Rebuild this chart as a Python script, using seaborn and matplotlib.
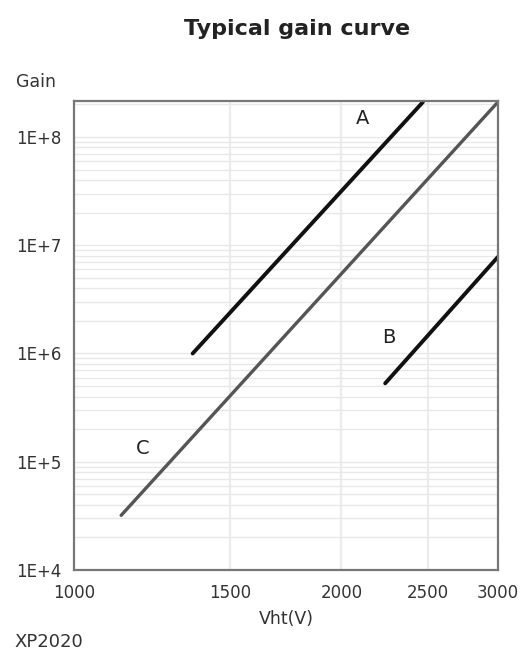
import matplotlib
matplotlib.use("Agg")
import matplotlib.pyplot as plt
import matplotlib.ticker as mticker
import numpy as np
import pandas as pd
import seaborn as sns

# end points of each (straight in log-log) gain curve
curva_a_v = [1360, 2470]
curva_a_g = [1.0e6, 2.1e8]
curva_b_v = [2240, 3000]
curva_b_g = [5.3e5, 7.8e6]
curva_c_v = [1130, 3000]
curva_c_g = [3.2e4, 2.1e8]

x_ticks = [1000, 1500, 2000, 2500, 3000]
y_ticks = [1e4, 1e5, 1e6, 1e7, 1e8]
y_tick_labels = ["1E+4", "1E+5", "1E+6", "1E+7", "1E+8"]

sns.set_style("white")
plt.rcParams['font.family'] = ['DejaVu Sans']

fig = plt.figure(figsize=(5.23, 6.54), dpi=100)
ax = fig.add_axes([0.1415, 0.1284, 0.8105, 0.7172])

ax.set_xscale("log")
ax.set_yscale("log")
ax.set_xlim(1000, 3000)
ax.set_ylim(1e4, 2.15e8)

# light log grid
ax.yaxis.set_minor_locator(mticker.LogLocator(base=10, subs=np.arange(2, 10)))
ax.grid(which="both", axis="y", color="#e8e8e8", linewidth=1.0)
for v in [1500, 2000, 2500]:
    ax.axvline(v, color="#ececec", linewidth=1.6, zorder=0)

sns.lineplot(x=curva_c_v, y=curva_c_g, ax=ax, color="#555555", linewidth=2.4)
sns.lineplot(x=curva_a_v, y=curva_a_g, ax=ax, color="#111111", linewidth=2.8)
sns.lineplot(x=curva_b_v, y=curva_b_g, ax=ax, color="#111111", linewidth=2.8)

ax.text(2114, 1.49e8, "A", fontsize=14, ha="center", va="center", color="#222222")
ax.text(2262, 1.42e6, "B", fontsize=14, ha="center", va="center", color="#222222")
ax.text(1196, 1.34e5, "C", fontsize=14, ha="center", va="center", color="#222222")

ax.xaxis.set_major_locator(mticker.FixedLocator(x_ticks))
ax.xaxis.set_minor_locator(mticker.NullLocator())
ax.set_xticklabels([str(t) for t in x_ticks])
ax.set_yticks(y_ticks)
ax.set_yticklabels(y_tick_labels)
ax.tick_params(axis="both", which="both", length=0, labelsize=12, labelcolor="#333333")
ax.tick_params(axis="x", pad=10)
ax.tick_params(axis="y", pad=9)

for s in ax.spines.values():
    s.set_color("#777777")
    s.set_linewidth(1.6)

ax.set_xlabel("Vht(V)", fontsize=12.5, color="#333333", labelpad=6)
ax.set_ylabel("")
fig.text(0.030, 0.874, "Gain", fontsize=12.5, color="#333333", va="center")
fig.text(0.027, 0.018, "XP2020", fontsize=13, color="#333333", va="center")
fig.text(0.568, 0.955, "Typical gain curve", fontsize=16, fontweight="bold",
         ha="center", va="center", color="#222222")

fig.savefig("out.png", dpi=100)
